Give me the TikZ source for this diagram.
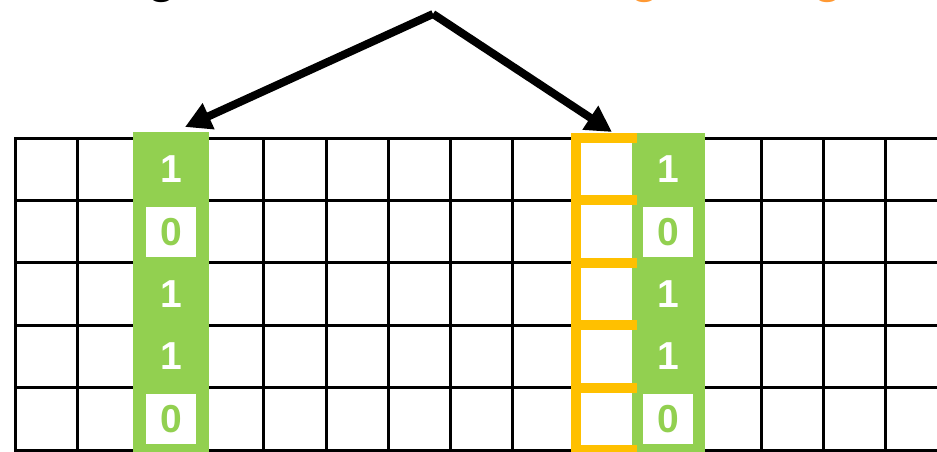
\documentclass[tikz,border=0pt]{standalone}
\usepackage{fontspec}
\setmainfont{Liberation Sans}
\usetikzlibrary{arrows.meta}
\definecolor{cgreen}{RGB}{146,208,80}
\definecolor{corange}{RGB}{255,192,0}
\definecolor{ctext}{RGB}{255,153,51}
\begin{document}
\begin{tikzpicture}[x=1pt,y=-1pt,
  gridline/.style={line width=3pt, line cap=rect, black},
  greencol/.style={fill=cgreen, draw=none, inner sep=0pt},
  bitfont/.style={font=\fontsize{39}{41}\selectfont\bfseries},
  onebit/.style={bitfont, text=white, inner sep=0pt},
  zerobit/.style={bitfont, text=cgreen, fill=white, minimum width=50pt, minimum height=50pt, inner sep=0pt},
  bracketline/.style={line width=10pt, corange},
  bigarrow/.style={line width=8pt, black, -{Triangle[length=26pt,width=27pt]}},
  toptext/.style={font=\fontsize{48}{50}\selectfont\bfseries, anchor=base, inner sep=0pt}
]
\useasboundingbox (0,0) rectangle (937,452);
\fill[white] (0,0) rectangle (937,452);
% grid
\foreach \k in {0,...,5} \draw[gridline] (15,{138+62.4*\k}) -- (960,{138+62.4*\k});
\foreach \k in {0,...,15} \draw[gridline] ({15+62.2*\k},138) -- ({15+62.2*\k},450);
% green columns
\node[greencol, minimum width=76pt, minimum height=320pt] (colA) at (171,292) {};
\node[greencol, minimum width=73pt, minimum height=319pt] (colB) at (668.5,292.5) {};
% bits column A
\node[onebit]  (a1) at (171,169.2) {1};
\node[zerobit] (a2) at (171,231.6) {0};
\node[onebit]  (a3) at (171,294.0) {1};
\node[onebit]  (a4) at (171,356.4) {1};
\node[zerobit] (a5) at (171,418.8) {0};
% bits column B
\node[onebit]  (b1) at (668,169.2) {1};
\node[zerobit] (b2) at (668,231.6) {0};
\node[onebit]  (b3) at (668,294.0) {1};
\node[onebit]  (b4) at (668,356.4) {1};
\node[zerobit] (b5) at (668,418.8) {0};
% orange bracket column
\draw[bracketline] (575.7,133) -- (575.7,455);
\foreach \k in {0,...,5} \draw[bracketline] (571,{138+62.4*\k}) -- (637,{138+62.4*\k});
% arrows
\coordinate (apex) at (433,14);
\coordinate (tipA) at (185,127);
\coordinate (tipB) at (612,132);
\draw[bigarrow] (apex) -- (tipA);
\draw[bigarrow] (apex) -- (tipB);
% cut-off title text (only descenders visible, as in the reference)
\node[toptext, text=black] (gA) at (162,-7) {g};
\node[toptext, text=ctext] (gB) at (645,-7) {g};
\node[toptext, text=ctext] (gC) at (828,-7) {g};
\end{tikzpicture}
\end{document}
